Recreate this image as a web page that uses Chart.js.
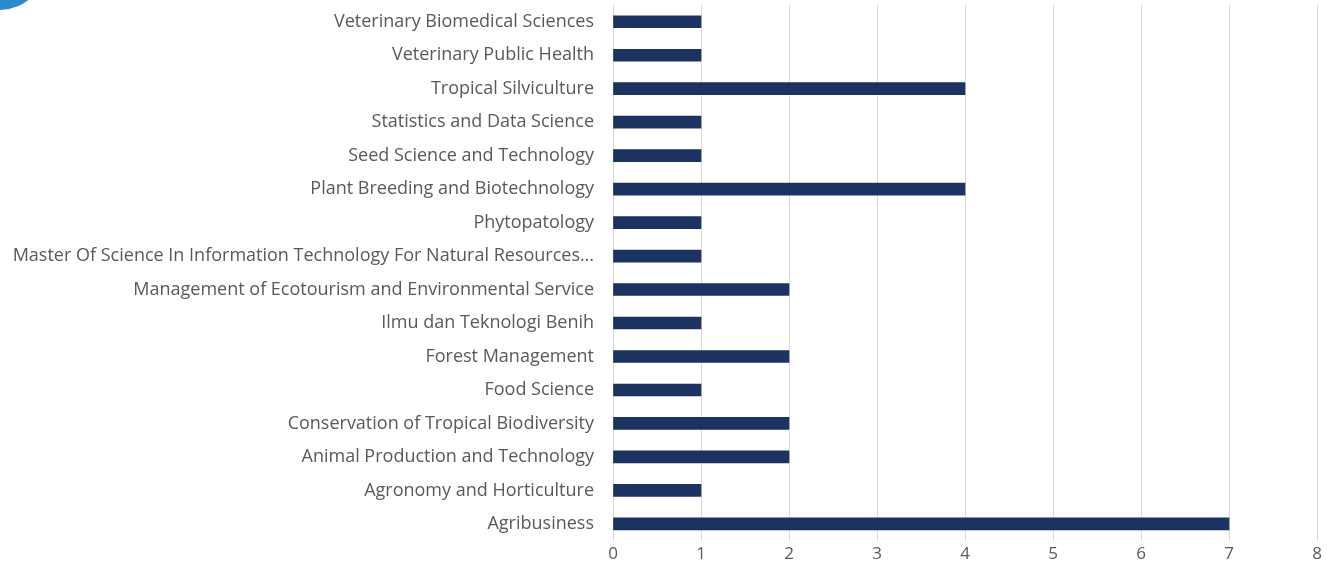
<!DOCTYPE html>
<html>
<head>
<meta charset="utf-8">
<script src="https://cdn.jsdelivr.net/npm/chart.js@4.4.1/dist/chart.umd.min.js"></script>
<style>
  html, body { margin: 0; padding: 0; background: #ffffff; overflow: hidden; }
  #wrap { position: relative; width: 1335px; height: 578px; }
  #badge { position: absolute; left: -45px; top: -80px; width: 90px; height: 90px; border-radius: 50%; background: #2a8bcb; z-index: 2; }
</style>
</head>
<body>
<div id="wrap">
  <div id="badge"></div>
  <canvas id="c" width="1335" height="578"></canvas>
</div>
<script>
// Study programmes, top to bottom
const programmes = [
  "Veterinary Biomedical Sciences",
  "Veterinary Public Health",
  "Tropical Silviculture",
  "Statistics and Data Science",
  "Seed Science and Technology",
  "Plant Breeding and Biotechnology",
  "Phytopatology",
  "Master Of Science In Information Technology For Natural Resources…",
  "Management of Ecotourism and Environmental Service",
  "Ilmu dan Teknologi Benih",
  "Forest Management",
  "Food Science",
  "Conservation of Tropical Biodiversity",
  "Animal Production and Technology",
  "Agronomy and Horticulture",
  "Agribusiness"
];
const counts = [1, 1, 4, 1, 1, 4, 1, 1, 2, 1, 2, 1, 2, 2, 1, 7];
const xTicks = [0, 1, 2, 3, 4, 5, 6, 7, 8];

const FONT = "'Open Sans', 'Lato', sans-serif";
const textColor = '#595959';

new Chart(document.getElementById('c'), {
  type: 'bar',
  data: {
    labels: programmes,
    datasets: [{
      data: counts,
      backgroundColor: '#1c3261',
      borderWidth: 0,
      barThickness: 12
    }]
  },
  options: {
    indexAxis: 'y',
    responsive: false,
    animation: false,
    layout: { padding: { top: 5, right: 18, left: 0, bottom: 11 } },
    plugins: { legend: { display: false }, tooltip: { enabled: false } },
    scales: {
      x: {
        min: xTicks[0],
        max: xTicks[xTicks.length - 1],
        afterBuildTicks: (axis) => { axis.ticks = xTicks.map(v => ({ value: v })); },
        grid: { color: '#d9d9d9', lineWidth: 1, drawTicks: false },
        border: { display: false },
        ticks: { color: textColor, font: { family: FONT, size: 17 }, padding: 3 }
      },
      y: {
        afterFit: (axis) => {
          axis.width = 613;
          axis.paddingTop = 0;
          axis.paddingBottom = 0;
        },
        grid: { display: false, drawTicks: false },
        border: { display: false },
        ticks: { color: textColor, font: { family: FONT, size: 18 }, padding: 19, autoSkip: false }
      }
    }
  }
});
</script>
</body>
</html>
